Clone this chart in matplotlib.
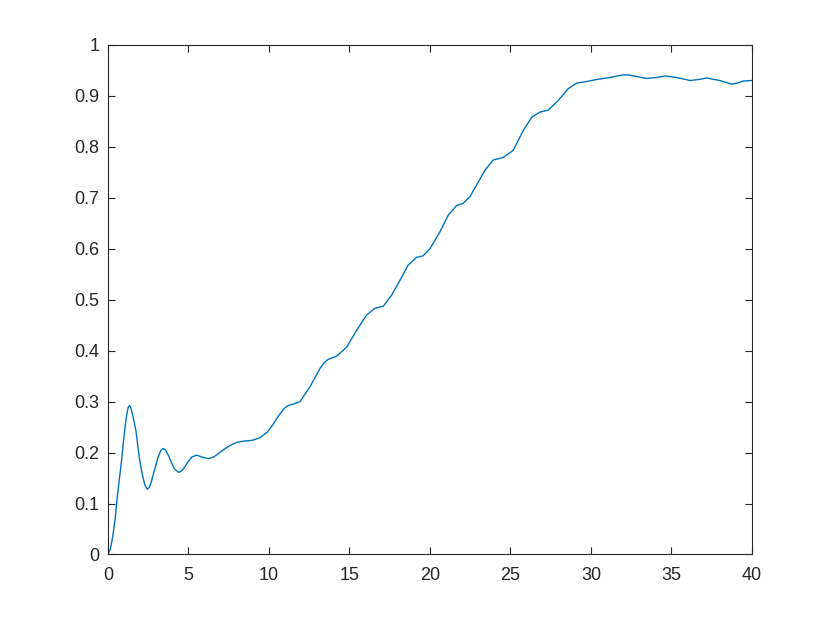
import numpy as np
import matplotlib
matplotlib.use('Agg')
import matplotlib.pyplot as plt

# --- data ---
t_vals = [0.0, 0.15, 0.3, 0.45, 0.58, 0.72, 0.85, 0.96, 1.06, 1.16, 1.25, 1.32,
          1.4, 1.5, 1.62, 1.74, 1.86, 1.99, 2.15, 2.3, 2.44, 2.58, 2.7, 2.81,
          2.96, 3.12, 3.28, 3.43, 3.58, 3.75, 3.95, 4.15, 4.41, 4.62, 4.82,
          5.0, 5.2, 5.5, 5.86, 6.27, 6.6, 6.9, 7.2, 7.5, 7.72, 8.0, 8.34,
          8.96, 9.44, 9.9, 10.27, 10.6, 10.99, 11.25, 11.51, 11.93, 12.55, 13.17,
          13.45, 13.69, 14.2, 14.83, 15.45, 16.07, 16.58, 17.1, 17.62, 18.14,
          18.65, 19.17, 19.58, 20.0, 20.62, 21.14, 21.66, 22.07, 22.48, 22.9,
          23.42, 23.93, 24.55, 25.17, 25.8, 26.32, 26.83, 27.35, 27.97, 28.59,
          29.11, 29.73, 30.35, 31.18, 32.0, 32.3, 32.84, 33.46, 34.08, 34.6,
          35.32, 36.15, 36.7, 37.19, 38.0, 38.73, 39.1, 39.46, 40.0]
y_vals = [0.0, 0.01, 0.035, 0.07, 0.112, 0.15, 0.185, 0.22, 0.248, 0.272, 0.287,
          0.292, 0.29, 0.279, 0.262, 0.243, 0.212, 0.182, 0.155, 0.136, 0.128,
          0.132, 0.143, 0.156, 0.173, 0.191, 0.204, 0.208, 0.205, 0.195, 0.18,
          0.167, 0.161, 0.165, 0.174, 0.183, 0.191, 0.195, 0.191, 0.188, 0.192,
          0.199, 0.206, 0.212, 0.216, 0.22, 0.222, 0.224, 0.229, 0.24, 0.256,
          0.272, 0.288, 0.293, 0.295, 0.3, 0.329, 0.365, 0.377, 0.383, 0.389,
          0.407, 0.44, 0.47, 0.483, 0.487, 0.509, 0.538, 0.568, 0.583, 0.586,
          0.6, 0.633, 0.666, 0.685, 0.689, 0.702, 0.725, 0.754, 0.774, 0.779,
          0.793, 0.832, 0.858, 0.868, 0.872, 0.891, 0.914, 0.925, 0.928, 0.932,
          0.936, 0.941, 0.941, 0.938, 0.934, 0.936, 0.939, 0.936, 0.93, 0.932,
          0.935, 0.93, 0.923, 0.925, 0.929, 0.93]

x_ticks = list(range(0, 41, 5))
y_ticks = [0, 0.1, 0.2, 0.3, 0.4, 0.5, 0.6, 0.7, 0.8, 0.9, 1]
y_tick_labels = ['0', '0.1', '0.2', '0.3', '0.4', '0.5', '0.6', '0.7', '0.8', '0.9', '1']

# --- figure in MATLAB default look ---
plt.rcParams['font.family'] = ['Liberation Sans', 'DejaVu Sans']
axis_col = '#262626'

fig = plt.figure(figsize=(8.3, 6.23), dpi=100)
ax = fig.add_axes([0.130, 0.110, 0.776, 0.818])

ax.plot(t_vals, y_vals, color='#0072BD', linewidth=1.0)

ax.set_xlim(0, 40)
ax.set_ylim(0, 1)
ax.set_xticks(x_ticks)
ax.set_yticks(y_ticks)
ax.set_yticklabels(y_tick_labels)

for sp in ax.spines.values():
    sp.set_color(axis_col)
    sp.set_linewidth(0.8)
ax.tick_params(direction='in', top=True, right=True, length=5, width=0.8,
               color=axis_col, labelcolor=axis_col, labelsize=13, pad=6)
ax.tick_params(axis='x', pad=9)

fig.savefig('out.png', dpi=100)
